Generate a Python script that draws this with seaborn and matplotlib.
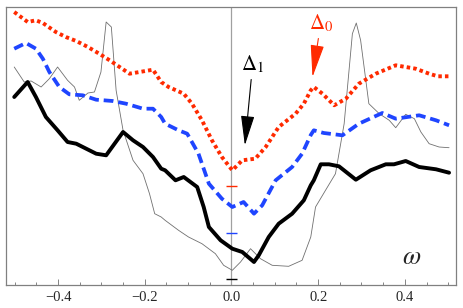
import numpy as np
import pandas as pd
import seaborn as sns
import matplotlib
matplotlib.use("Agg")
import matplotlib.pyplot as plt

# omega values and curve heights (arbitrary units, 0 = bottom of frame)
red_w = [-0.501, -0.470, -0.451, -0.435, -0.405, -0.382, -0.358, -0.331, -0.305, -0.281,
         -0.258, -0.235, -0.212, -0.181, -0.162, -0.145, -0.110, -0.091, -0.068, -0.045,
         -0.022, 0.002, 0.025, 0.055, 0.079, 0.109, 0.148, 0.167, 0.183, 0.190,
         0.210, 0.237, 0.264, 0.294, 0.333, 0.379, 0.425, 0.456, 0.476, 0.502]
red_v = [273, 263, 264.7, 262, 253, 248, 244, 238, 231.3, 224.7,
         218, 211.3, 213, 215.3, 203, 198, 191.3, 181.3, 164.7, 144.7,
         128, 114.7, 124.7, 126.3, 138, 158, 171.3, 181.3, 194.7, 198,
         191.3, 179.7, 186.3, 201.3, 211.3, 219.7, 216.3, 211.3, 208.7, 208.7]

blue_w = [-0.501, -0.474, -0.451, -0.435, -0.420, -0.397, -0.374, -0.343, -0.312, -0.274,
          -0.243, -0.204, -0.181, -0.162, -0.153, -0.122, -0.102, -0.076, -0.052, -0.022,
          0.002, 0.028, 0.052, 0.071, 0.102, 0.140, 0.163, 0.183, 0.190, 0.213,
          0.256, 0.294, 0.348, 0.379, 0.433, 0.472, 0.502]
blue_v = [236.3, 242, 236.3, 226.3, 213, 198, 190.7, 189.7, 185.3, 184,
          181.3, 176.3, 176.3, 168, 161.3, 154.7, 151.3, 131.3, 101.3, 86.3,
          78, 83, 71.3, 79.7, 104.7, 118, 131.3, 150, 154.7, 152,
          149.7, 161.3, 172, 166.3, 169.7, 164.7, 159.7]

black_w = [-0.501, -0.470, -0.451, -0.428, -0.401, -0.378, -0.358, -0.335, -0.312, -0.289,
           -0.250, -0.227, -0.204, -0.181, -0.162, -0.153, -0.129, -0.110, -0.079, -0.064,
           -0.052, -0.025, 0.002, 0.025, 0.052, 0.063, 0.086, 0.109, 0.140, 0.167,
           0.183, 0.190, 0.206, 0.225, 0.248, 0.287, 0.321, 0.356, 0.375, 0.402,
           0.433, 0.472, 0.502]
black_v = [188, 203, 188, 168, 154.7, 143, 141.3, 136.3, 131.3, 129.7,
           153, 144.7, 138, 128, 116.3, 114.7, 104.7, 108, 98, 78,
           58, 44.7, 36.3, 33, 23, 29.7, 48, 61.3, 71.3, 84.7,
           99.7, 104.7, 120.7, 120.7, 118.7, 105.3, 114.7, 120.7, 120.7, 124,
           118, 115.7, 112.3]

gray_w = [-0.501, -0.478, -0.462, -0.439, -0.420, -0.401, -0.378, -0.362, -0.351, -0.331,
          -0.316, -0.301, -0.289, -0.277, -0.266, -0.250, -0.227, -0.204, -0.189, -0.177,
          -0.162, -0.153, -0.122, -0.099, -0.068, -0.037, -0.018, 0.002, 0.021, 0.044,
          0.067, 0.094, 0.132, 0.163, 0.183, 0.194, 0.217, 0.240, 0.260, 0.279,
          0.288, 0.298, 0.317, 0.341, 0.364, 0.379, 0.402, 0.422, 0.437, 0.456,
          0.479, 0.502]
gray_v = [218, 203, 204, 198, 206.3, 218, 204.7, 198, 184.7, 192,
          193, 213, 263, 258, 194.7, 154.7, 124.7, 111.3, 91.3, 71.3,
          68, 64.7, 54.7, 48, 41.3, 31.3, 19.7, 14.7, 23, 36.3,
          26.3, 19.7, 18.7, 24.7, 48, 78, 94.7, 111.3, 161.3, 251.3,
          262, 244.7, 181.3, 171.3, 164.7, 157.3, 170.7, 166.3, 153, 141.3,
          138, 137.3]

# small level marks on the omega = 0 axis
levels = [98.7, 52, 6.3]
level_colors = ["#ff2a00", "#1f45ff", "black"]

xticks = [-0.4, -0.2, 0.0, 0.2, 0.4]

sns.set_style("white")
plt.rcParams["font.family"] = "serif"
plt.rcParams["font.serif"] = ["Liberation Serif", "DejaVu Serif"]
plt.rcParams["mathtext.fontset"] = "stix"

fig = plt.figure(figsize=(4.64, 3.08), dpi=100)
ax = fig.add_axes([6 / 464, 1 - 285 / 308, 450 / 464, 278 / 308])

ax.axvline(0, color="#a0a0a0", lw=0.9, zorder=1)

sns.lineplot(x=gray_w, y=gray_v, sort=False, color="#707070", lw=0.6, ax=ax)
sns.lineplot(x=black_w, y=black_v, sort=False, color="black", lw=2.8, ax=ax)
sns.lineplot(x=blue_w, y=blue_v, sort=False, color="#1f45ff", lw=2.7,
             ax=ax).lines[-1].set_dashes([2.6, 1.3])
sns.lineplot(x=red_w, y=red_v, sort=False, color="#ff2a00", lw=2.8,
             ax=ax).lines[-1].set_dashes([0.9, 0.8])

ax.hlines(levels, -0.013, 0.013, colors=level_colors, lw=1.0, zorder=3)

ax.annotate(r"$\Delta_1$", xy=(0.031, 139.7), xytext=(0.049, 221),
            ha="center", va="center", fontsize=15, color="black",
            arrowprops=dict(arrowstyle="-|>,head_length=1.1,head_width=0.25",
                            mutation_scale=17, color="black", lw=0.8,
                            shrinkA=1, shrinkB=0))
ax.annotate(r"$\Delta_0$", xy=(0.187, 208), xytext=(0.206, 262),
            ha="center", va="center", fontsize=15, color="#ff2a00",
            arrowprops=dict(arrowstyle="-|>,head_length=1.2,head_width=0.25",
                            mutation_scale=17, color="#ff2a00", lw=0.8,
                            shrinkA=1, shrinkB=0))
ax.text(0.416, 27, r"$\omega$", ha="center", va="center", fontsize=19)

ax.set_xlim(-0.52, 0.518)
ax.set_ylim(0, 278)
ax.set_xticks(xticks)
ax.set_xticklabels([f"{t:.1f}".replace("-", "\u2212") for t in xticks],
                   fontsize=10.5, fontfamily="Liberation Serif")
ax.set_xticks(np.arange(-0.5, 0.51, 0.05), minor=True)
ax.set_yticks([])
ax.tick_params(axis="x", which="major", direction="in", length=4, width=0.6,
               color="#707070", pad=4, bottom=True)
ax.tick_params(axis="x", which="minor", direction="in", length=2.5, width=0.6,
               color="#707070", bottom=True)
for s in ax.spines.values():
    s.set_color("#808080")
    s.set_linewidth(0.9)

fig.savefig("out.png", dpi=100)
